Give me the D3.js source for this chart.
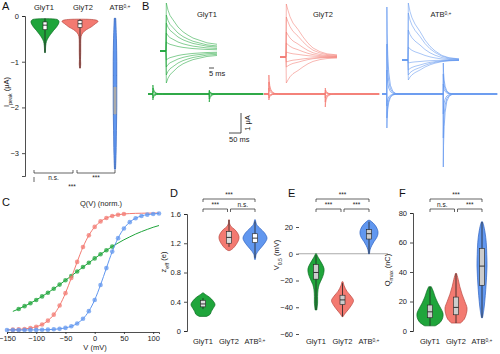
<!DOCTYPE html>
<html lang="en">
<head>
<meta charset="UTF-8">
<title>Transporter charge movement</title>
<style>
  body { margin: 0; background: #fff; }
  svg { font-family: "Liberation Sans", Arial, sans-serif; }
  .axis text { font-size: 7.5px; fill: #222; }
  .axis path, .axis line { stroke: #222; stroke-width: 0.8; fill: none; }
  .letter { font-size: 11px; fill: #111; }
  .lab { font-size: 7.5px; fill: #222; }
  .sig { font-size: 6.5px; fill: #222; }
  .bracket { stroke: #222; stroke-width: 0.7; fill: none; }
</style>
</head>
<body>
<svg width="500" height="354"></svg>
<script src="https://d3js.org/d3.v7.min.js"></script>
<script>
var svg = d3.select("svg");

var constructs = ["GlyT1", "GlyT2", "ATB"];
var fillCol = {GlyT1: "#1fa53b", GlyT2: "#f37a71", ATB: "#6197ef"};
var lineCol = {GlyT1: "#0c6b22", GlyT2: "#b9463f", ATB: "#2e61c0"};

// ---- A: peak currents, violin outlines [value (uA), relative density]
var peakGlyT1 = [[-0.06,0.3],[-0.08,0.9],[-0.12,1],[-0.18,0.95],[-0.25,0.8],[-0.32,0.6],[-0.4,0.4],[-0.48,0.22],[-0.56,0.1],[-0.65,0.05],[-0.8,0.03]];
var peakGlyT2 = [[-0.07,0.2],[-0.09,0.9],[-0.12,1],[-0.17,0.85],[-0.24,0.62],[-0.3,0.35],[-0.37,0.15],[-0.45,0.06],[-0.6,0.04],[-0.8,0.04],[-0.95,0.03],[-1.05,0.04],[-1.14,0.02]];
var peakATB = [[-0.05,0.4],[-0.5,0.8],[-1.0,1],[-1.5,1],[-2.0,1],[-2.5,0.8],[-3.0,0.6],[-3.35,0.3]];
// box: [low whisker, q1, median, q3, high whisker]
var peakBox = {GlyT1: [-0.05,-0.13,-0.2,-0.3,-0.8], GlyT2: [-0.07,-0.1,-0.17,-0.25,-1.14], ATB: [-0.05,-1.55,-1.3,-2.15,-3.35]};
var peakTicks = [0, -1, -2, -3];

// ---- B: current traces
var insetT = [-6, 0, 0.3, 2, 4, 7, 12, 17, 22, 27, 34, 41, 51];
var insetShape = {
  GlyT1: [0, 0, 1, 0.85, 0.74, 0.65, 0.5, 0.4, 0.33, 0.27, 0.22, 0.17, 0.14],
  GlyT2: [0, 0, 1, 0.88, 0.76, 0.64, 0.52, 0.38, 0.26, 0.17, 0.1, 0.06, 0.04],
  ATB:   [0, 0, 1, 0.85, 0.74, 0.63, 0.5, 0.35, 0.24, 0.16, 0.08, 0.04, 0.02]
};
var insetAmp = {
  GlyT1: [0.96, 0.72, 0.56, 0.36, 0.18, -0.18, -0.32, -0.48, -0.64],
  GlyT2: [1.06, 0.8, 0.5, 0.28, 0.1, -0.1, -0.2, -0.52],
  ATB:   [1.14, 0.94, 0.6, 0.26, -0.06, -0.2, -0.3, -0.4]
};
var spikeT = [0, 0.4, 1.5, 4, 8, 15, 25, 40];
var spikeShape = [0, 1, 0.7, 0.45, 0.25, 0.1, 0.03, 0];
var longOn = {
  GlyT1: [0.45, 0.3, 0.15, -0.1, -0.2, -0.3],
  GlyT2: [0.95, 0.6, 0.3, -0.1, -0.2, -0.3],
  ATB:   [4.35, 2.5, 1.2, -0.6, -1.2, -1.7]
};
var longOff = {
  GlyT1: [-0.4, -0.25, -0.12, 0.08, 0.15, 0.2],
  GlyT2: [-0.65, -0.4, -0.2, 0.1, 0.2, 0.3],
  ATB:   [-3.65, -2.2, -1.0, 0.5, 1.0, 1.55]
};
var pulseOn = 20, pulseOff = 255, sweepEnd = 480;

// ---- C: normalized charge vs voltage
var qVolts = [-150,-140,-130,-120,-110,-100,-90,-80,-70,-60,-50,-40,-30,-20,-10,0,10,20,30,40,50,60,70,80,90,100,110];
var qGlyT1 = [0.140,0.159,0.180,0.204,0.229,0.257,0.287,0.319,0.353,0.388,0.425,0.462,0.500,0.538,0.575,0.612,0.647,0.681,0.713,0.743,0.771,0.796,0.820,0.841,0.860,0.878,0.893];
var qGlyT2 = [0.002,0.003,0.005,0.009,0.016,0.028,0.047,0.080,0.131,0.209,0.315,0.445,0.582,0.709,0.809,0.881,0.928,0.957,0.975,0.985,0.992,0.995,0.997,0.998,0.999,0.999,1.0];
var qATB = [0.000,0.000,0.000,0.000,0.001,0.001,0.002,0.003,0.006,0.010,0.018,0.032,0.056,0.096,0.161,0.257,0.385,0.529,0.670,0.785,0.868,0.922,0.955,0.975,0.986,0.992,0.996];
var qDotRange = {GlyT1: [-130, 30], GlyT2: [-140, 50], ATB: [-150, 110]};
var qLineRange = {GlyT1: [-140, 110], GlyT2: [-150, 110], ATB: [-150, 110]};
var voltTicks = [-150, -100, -50, 0, 50, 100];

// ---- D: effective valence
var zGlyT1 = [[0.2,0.3],[0.23,0.6],[0.27,0.7],[0.31,0.85],[0.36,1],[0.41,0.85],[0.46,0.55],[0.5,0.2],[0.52,0.05]];
var zGlyT2 = [[1.1,0.1],[1.13,0.4],[1.18,0.7],[1.24,0.95],[1.29,1],[1.34,0.85],[1.39,0.55],[1.43,0.2],[1.47,0.06],[1.52,0.03]];
var zATB = [[0.98,0.04],[1.05,0.1],[1.12,0.4],[1.2,0.8],[1.27,1],[1.34,0.8],[1.4,0.45],[1.46,0.12],[1.52,0.04]];
var zBox = {GlyT1: [0.3,0.33,0.37,0.42,0.45], GlyT2: [1.15,1.2,1.28,1.36,1.52], ATB: [1.0,1.21,1.27,1.33,1.5]};
var zTicks = [0, 0.4, 0.8, 1.2, 1.6];

// ---- E: half-activation voltage
var vGlyT1 = [[0,0.05],[-3,0.3],[-7,0.7],[-11,1],[-15,0.95],[-19,0.7],[-23,0.4],[-27,0.25],[-32,0.2],[-37,0.2],[-42,0.1]];
var vGlyT2 = [[-21,0.05],[-24,0.15],[-28,0.4],[-32,0.8],[-35,1],[-38,0.85],[-42,0.5],[-45,0.2],[-47,0.05]];
var vATB = [[25,0.1],[22,0.6],[18,0.95],[15,1],[12,0.85],[9,0.55],[6,0.3],[3,0.12],[0,0.05]];
var vBox = {GlyT1: [-1,-8,-14,-19,-42], GlyT2: [-22,-31,-34.5,-38,-47], ATB: [0,11,15,18,24]};
var vTicks = [-60, -40, -20, 0, 20];

// ---- F: maximal charge
var qmGlyT1 = [[3.5,0.4],[6,0.8],[9,0.98],[12,1],[15,0.85],[19,0.6],[23,0.4],[27,0.25],[30,0.1]];
var qmGlyT2 = [[5.4,0.4],[8,0.75],[12,0.95],[15.6,1],[20,0.8],[25,0.55],[30,0.35],[35,0.2],[39,0.05]];
var qmATB = [[9,0.1],[14,0.35],[20,0.55],[28,0.75],[36,0.9],[44,1],[52,0.95],[60,0.85],[67,0.6],[72,0.3],[74,0.1]];
var qmBox = {GlyT1: [3.5,9,13,17.6,30], GlyT2: [5.4,11,16,23,39], ATB: [9,31,44,56,74]};
var qmTicks = [0, 20, 40, 60, 80];

// significance: [from, to, label, level]
var sigD = [["GlyT1","ATB","***",0],["GlyT1","GlyT2","***",1],["GlyT2","ATB","n.s.",1]];
var sigE = [["GlyT1","ATB","***",0],["GlyT1","GlyT2","***",1],["GlyT2","ATB","***",1]];
var sigF = [["GlyT1","ATB","***",0],["GlyT1","GlyT2","n.s.",1],["GlyT2","ATB","***",1]];

// ---------- helpers
function catText(sel, c) {
  if (c === "ATB") {
    sel.text("ATB");
    sel.append("tspan").attr("baseline-shift", "super").attr("font-size", "65%").text("0,+");
  } else sel.text(c);
}

function violin(g, pts, cx, y, hw, c) {
  g.append("path").datum(pts)
    .attr("d", d3.area().curve(d3.curveCatmullRom)
      .y(function(d){ return y(d[0]); })
      .x0(function(d){ return cx - d[1]*hw; })
      .x1(function(d){ return cx + d[1]*hw; }))
    .attr("fill", fillCol[c]).attr("stroke", lineCol[c]).attr("stroke-width", 0.7);
}

function box(g, b, cx, y, bw, fill) {
  g.append("line").attr("x1", cx).attr("x2", cx).attr("y1", y(b[0])).attr("y2", y(b[4]))
    .attr("stroke", "#222").attr("stroke-width", 0.8);
  var top = Math.min(y(b[1]), y(b[3])), bot = Math.max(y(b[1]), y(b[3]));
  g.append("rect").attr("x", cx - bw).attr("width", 2*bw).attr("y", top).attr("height", bot - top)
    .attr("fill", fill).attr("stroke", "#222").attr("stroke-width", 0.6);
  g.append("line").attr("x1", cx - bw).attr("x2", cx + bw).attr("y1", y(b[2])).attr("y2", y(b[2]))
    .attr("stroke", "#222").attr("stroke-width", 0.9);
}

function brackets(g, sig, x, yTop) {
  sig.forEach(function(s) {
    var x1 = x(s[0]) + (s[3] ? (s[0] === "GlyT1" ? 0 : 1.5) : 0);
    var x2 = x(s[1]) - (s[3] ? (s[1] === "ATB" ? 0 : 1.5) : 0);
    var yy = yTop + s[3]*10;
    g.append("path").attr("class", "bracket")
      .attr("d", "M" + x1 + "," + (yy+3) + "V" + yy + "H" + x2 + "V" + (yy+3));
    g.append("text").attr("class", "sig").attr("x", (x1+x2)/2).attr("y", yy - 2)
      .attr("text-anchor", "middle").text(s[2]);
  });
}

function yLabel(x, y, main, sub, unit) {
  var t = svg.append("text").attr("class", "lab").attr("font-size", "8px")
    .attr("transform", "translate(" + x + "," + y + ") rotate(-90)").attr("text-anchor", "middle");
  t.append("tspan").text(main);
  t.append("tspan").attr("baseline-shift", "sub").attr("font-size", "70%").text(sub);
  t.append("tspan").text(" " + unit);
}

function letter(l, x, y) {
  svg.append("text").attr("class", "letter").attr("x", x).attr("y", y).text(l);
}

// ---------- Panel A
letter("A", 2, 10);
var aY = d3.scaleLinear().domain([0, -3.5]).range([16, 176]);
var aX = d3.scalePoint().domain(constructs).range([45, 115]);
svg.append("g").attr("class", "axis").attr("transform", "translate(25,0)")
  .call(d3.axisLeft(aY).tickValues(peakTicks).tickSize(3).tickFormat(d3.format("d")));
yLabel(9, 92, "I", "peak", "(\u03bcA)");
var aTop = {GlyT1: 44, GlyT2: 83, ATB: 120};
constructs.forEach(function(c) {
  svg.append("text").attr("class", "lab").attr("font-size", "8px").attr("x", aTop[c]).attr("y", 10)
    .attr("text-anchor", "middle").call(catText, c);
});
var gA = svg.append("g");
violin(gA, peakGlyT1, aX("GlyT1"), aY, 14, "GlyT1");
box(gA, peakBox.GlyT1, aX("GlyT1"), aY, 2, "#fff");
violin(gA, peakGlyT2, aX("GlyT2"), aY, 18, "GlyT2");
box(gA, peakBox.GlyT2, aX("GlyT2"), aY, 2, "#fff");
box(gA, peakBox.ATB, aX("ATB"), aY, 1.5, "#aaa");
violin(gA, peakATB, aX("ATB"), aY, 1.8, "ATB");
gA.append("line").attr("x1", aX("ATB")).attr("x2", aX("ATB")).attr("y1", aY(peakBox.ATB[1])).attr("y2", aY(peakBox.ATB[3]))
  .attr("stroke", "#aaa").attr("stroke-width", 3);
// bottom comparisons
[[34, 73, "n.s."], [77, 115, "***"]].forEach(function(b) {
  svg.append("path").attr("class", "bracket").attr("d", "M" + b[0] + ",170V173H" + b[1] + "V170");
  svg.append("text").attr("class", "sig").attr("x", (b[0]+b[1])/2).attr("y", 180).attr("text-anchor", "middle").text(b[2]);
});
svg.append("path").attr("class", "bracket").attr("d", "M34,177V182");
svg.append("text").attr("class", "sig").attr("x", 72).attr("y", 189).attr("text-anchor", "middle").text("***");

// ---------- Panel B
letter("B", 142, 10);
var bTitle = {GlyT1: 207, GlyT2: 323, ATB: 441};
constructs.forEach(function(c) {
  svg.append("text").attr("class", "lab").attr("font-size", "8.5px").attr("x", bTitle[c]).attr("y", 17)
    .attr("text-anchor", "middle").call(catText, c);
});
var insetPos = {GlyT1: [166, 51], GlyT2: [286, 57], ATB: [408, 60]};
var longX0 = {GlyT1: 148, GlyT2: 264, ATB: 382};
var longBase = 94;
var yLong = d3.scaleLinear().domain([0, 1]).range([longBase, longBase - 20]);
var msPx = 12 / 50;
var traceLine = d3.line().x(function(d){ return d[0]; }).y(function(d){ return d[1]; });
var gB = svg.append("g").attr("fill", "none");
constructs.forEach(function(c) {
  var p = insetPos[c];
  var xi = d3.scaleLinear().domain([0, 1]).range([p[0], p[0] + 1]);
  var yi = d3.scaleLinear().domain([-1, 1]).range([p[1] + 50, p[1] - 50]);
  insetAmp[c].forEach(function(a) {
    var pts = insetT.map(function(t, i) { return [xi(t), yi(a * insetShape[c][i])]; });
    gB.append("path").attr("d", traceLine(pts)).attr("stroke", fillCol[c]).attr("stroke-width", 0.55);
  });
  var xl = d3.scaleLinear().domain([0, 50]).range([longX0[c], longX0[c] + 50*msPx]);
  longOn[c].forEach(function(a, k) {
    var b = longOff[c][k];
    var pts = [[0, 0]];
    spikeT.forEach(function(t, i) { pts.push([pulseOn + t, a * spikeShape[i]]); });
    spikeT.forEach(function(t, i) { pts.push([pulseOff + t, b * spikeShape[i]]); });
    pts.push([sweepEnd, 0]);
    gB.append("path").attr("d", traceLine(pts.map(function(d){ return [xl(d[0]), yLong(d[1])]; })))
      .attr("stroke", fillCol[c]).attr("stroke-width", 0.7);
  });
});
// scale bars
var sbX = 241, sbY = 133;
gB.append("path").attr("stroke", "#222").attr("stroke-width", 0.8)
  .attr("d", "M" + sbX + "," + (sbY - (yLong(0) - yLong(1))) + "V" + sbY + "H" + (sbX - 50*msPx));
svg.append("text").attr("class", "lab").attr("font-size", "7px")
  .attr("transform", "translate(250,123) rotate(-90)").attr("text-anchor", "middle").text("1 \u03bcA");
svg.append("text").attr("class", "lab").attr("font-size", "7px").attr("x", sbX - 50*msPx).attr("y", 142).text("50 ms");
gB.append("path").attr("stroke", "#222").attr("stroke-width", 0.8).attr("d", "M209,68H214");
svg.append("text").attr("class", "lab").attr("font-size", "7px").attr("x", 209).attr("y", 76).text("5 ms");

// ---------- Panel C
letter("C", 2, 206);
var cX = d3.scaleLinear().domain([-150, 110]).range([7, 159]);
var cY = d3.scaleLinear().domain([0, 1]).range([330, 213]);
svg.append("g").attr("class", "axis").attr("transform", "translate(0,332)")
  .call(d3.axisBottom(cX).tickValues(voltTicks).tickSize(2).tickPadding(1.5).tickFormat(d3.format("d")));
svg.append("text").attr("class", "lab").attr("font-size", "7.5px").attr("x", 95).attr("y", 350)
  .attr("text-anchor", "middle").text("V (mV)");
svg.append("text").attr("class", "lab").attr("font-size", "8px").attr("x", 101).attr("y", 206)
  .attr("text-anchor", "middle").text("Q(V) (norm.)");
var qSeries = {GlyT1: qGlyT1, GlyT2: qGlyT2, ATB: qATB};
var gC = svg.append("g");
["GlyT1", "GlyT2", "ATB"].forEach(function(c) {
  var pts = qVolts.map(function(v, i) { return [v, qSeries[c][i]]; });
  var lr = qLineRange[c], dr = qDotRange[c];
  gC.append("path").datum(pts.filter(function(d){ return d[0] >= lr[0] && d[0] <= lr[1]; }))
    .attr("d", d3.line().curve(d3.curveMonotoneX).x(function(d){ return cX(d[0]); }).y(function(d){ return cY(d[1]); }))
    .attr("fill", "none").attr("stroke", fillCol[c]).attr("stroke-width", 1);
  gC.selectAll(".dot-" + c).data(pts.filter(function(d){ return d[0] >= dr[0] && d[0] <= dr[1]; }))
    .enter().append("circle")
    .attr("cx", function(d){ return cX(d[0]); }).attr("cy", function(d){ return cY(d[1]); })
    .attr("r", 2.3).attr("fill", fillCol[c]).attr("fill-opacity", 0.75);
});

// ---------- shared drawing for D, E, F
function statPanel(o) {
  var x = d3.scalePoint().domain(constructs).range(o.xr);
  var y = d3.scaleLinear().domain(o.yd).range(o.yr);
  var ax = svg.append("g").attr("class", "axis").attr("transform", "translate(" + o.ax + ",0)")
    .call(d3.axisLeft(y).tickValues(o.ticks).tickSize(3).tickFormat(o.fmt));
  if (!o.domainLine) ax.select(".domain").remove();
  if (o.zero) {
    svg.append("line").attr("x1", o.zero[0]).attr("x2", o.zero[1]).attr("y1", y(0)).attr("y2", y(0))
      .attr("stroke", "#aaa").attr("stroke-width", 1);
  }
  var g = svg.append("g");
  constructs.forEach(function(c) {
    violin(g, o.v[c], x(c), y, o.hw[c], c);
    box(g, o.box[c], x(c), y, 2.5, o.boxFill[c]);
    svg.append("text").attr("class", "lab").attr("font-size", "7.5px").attr("x", x(c)).attr("y", 344)
      .attr("text-anchor", "middle").call(catText, c);
  });
  brackets(svg, o.sig, x, 199);
  yLabel(o.lab[0], o.lab[1], o.lab[2], o.lab[3], o.lab[4]);
}

letter("D", 170, 197);
statPanel({xr: [203, 255], yd: [0, 1.6], yr: [331, 214], ax: 187, ticks: zTicks,
  fmt: function(d){ return d === 0 ? "0" : d3.format(".1f")(d); }, domainLine: true,
  v: {GlyT1: zGlyT1, GlyT2: zGlyT2, ATB: zATB}, hw: {GlyT1: 12, GlyT2: 10, ATB: 12},
  box: zBox, boxFill: {GlyT1: "#ddd", GlyT2: "#ddd", ATB: "#fff"}, sig: sigD,
  lab: [166, 262, "z", "eff", "(e)"]});

letter("E", 288, 197);
statPanel({xr: [316, 369], yd: [-60, 20], yr: [334, 227], ax: 299, ticks: vTicks,
  fmt: d3.format("d"), domainLine: false, zero: [298, 388],
  v: {GlyT1: vGlyT1, GlyT2: vGlyT2, ATB: vATB}, hw: {GlyT1: 8, GlyT2: 11, ATB: 9},
  box: vBox, boxFill: {GlyT1: "#ccc", GlyT2: "#ccc", ATB: "#ccc"}, sig: sigE,
  lab: [279, 255, "V", "0.5", "(mV)"]});

letter("F", 399, 197);
statPanel({xr: [430, 482], yd: [0, 80], yr: [331, 213], ax: 413, ticks: qmTicks,
  fmt: d3.format("d"), domainLine: true,
  v: {GlyT1: qmGlyT1, GlyT2: qmGlyT2, ATB: qmATB}, hw: {GlyT1: 13, GlyT2: 11, ATB: 5},
  box: qmBox, boxFill: {GlyT1: "#ccc", GlyT2: "#ccc", ATB: "#ccc"}, sig: sigF,
  lab: [390, 270, "Q", "max", "(nC)"]});
</script>
</body>
</html>
